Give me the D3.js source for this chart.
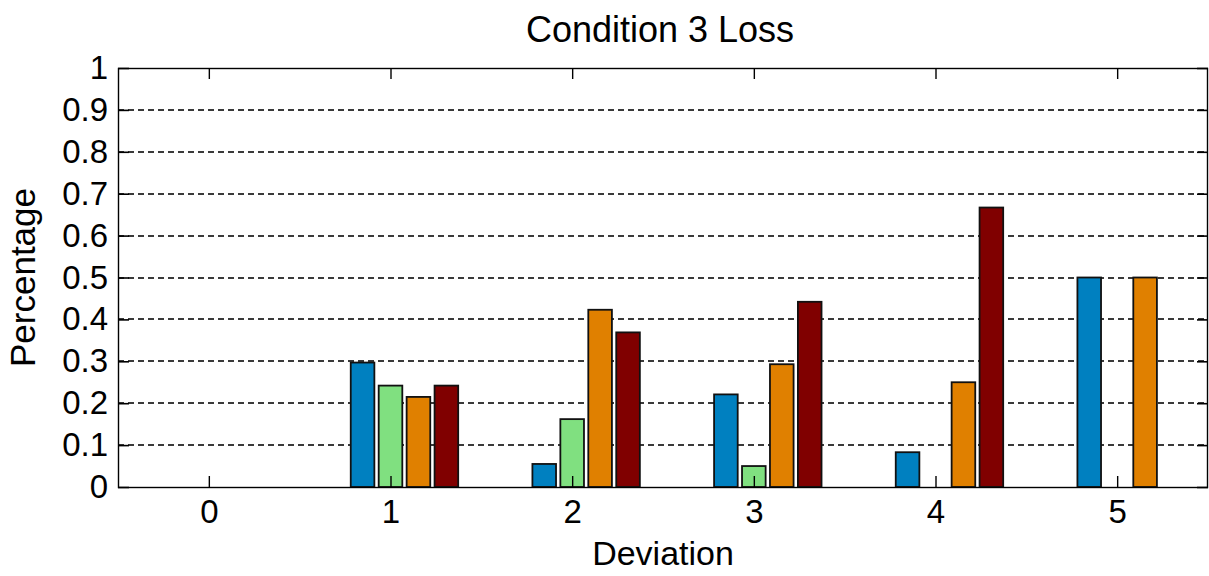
<!DOCTYPE html>
<html>
<head>
<meta charset="utf-8">
<script src="https://cdnjs.cloudflare.com/ajax/libs/d3/7.8.5/d3.min.js"></script>
<style>
    body { margin: 0; background: #fff; }
    svg { display: block; font-family: "Liberation Sans", Arial, sans-serif; }
</style>
</head>
<body>
<div id="chart"></div>
<script>
// Chart data
const deviations = [0, 1, 2, 3, 4, 5];
const blueValues = [0, 0.297, 0.055, 0.221, 0.083, 0.5];
const greenValues = [0, 0.242, 0.162, 0.05, 0, 0];
const orangeValues = [0, 0.215, 0.423, 0.293, 0.25, 0.5];
const redValues = [0, 0.242, 0.369, 0.442, 0.667, 0];
const yTicks = [0, 0.1, 0.2, 0.3, 0.4, 0.5, 0.6, 0.7, 0.8, 0.9, 1];

const series = [
    { values: blueValues, color: '#0080c0', slot: -1 },
    { values: greenValues, color: '#80e080', slot: 0 },
    { values: orangeValues, color: '#e08000', slot: 1 },
    { values: redValues, color: '#800000', slot: 2 }
];

const width = 1209;
const height = 576;
const margin = { top: 68, right: 1, bottom: 89, left: 118 };

// slot width in x units (matlab grouped bar, 5 series)
const slotWidth = 0.1538;
const barWidth = 0.13;

const svg = d3.select('#chart')
    .append('svg')
    .attr('width', width)
    .attr('height', height);

const x = d3.scaleLinear()
    .domain([-0.5, 5.5])
    .range([margin.left, width - margin.right]);

const y = d3.scaleLinear()
    .domain([0, 1])
    .range([height - margin.bottom, margin.top]);

// Dashed horizontal grid
svg.append('g')
    .selectAll('line')
    .data(yTicks.filter(t => t > 0 && t < 1))
    .enter()
    .append('line')
    .attr('x1', x.range()[0])
    .attr('x2', x.range()[1])
    .attr('y1', d => Math.round(y(d)))
    .attr('y2', d => Math.round(y(d)))
    .style('stroke', '#3a3a3a')
    .style('stroke-width', 2)
    .style('stroke-dasharray', '6,4');

// Bars
series.forEach(s => {
    svg.append('g')
        .selectAll('rect')
        .data(deviations.map((d, i) => ({ d, v: s.values[i] })).filter(p => p.v > 0))
        .enter()
        .append('rect')
        .attr('x', p => x(p.d + s.slot * slotWidth - barWidth / 2))
        .attr('width', x(barWidth) - x(0))
        .attr('y', p => y(p.v))
        .attr('height', p => y(0) - y(p.v))
        .style('fill', s.color)
        .style('stroke', '#111')
        .style('stroke-width', 1.8);
});

// Axes (ticks pointing inward)
const tickLen = 11;

svg.append('g')
    .attr('transform', `translate(0,${y(0)})`)
    .call(d3.axisBottom(x).tickValues(deviations).tickFormat(d3.format('d'))
        .tickSizeInner(-tickLen).tickSizeOuter(0).tickPadding(13))
    .call(g => g.select('.domain').remove())
    .call(g => g.selectAll('line').style('stroke-width', 1.4))
    .call(g => g.selectAll('text').style('font-size', '33px').style('fill', '#000'));

svg.append('g')
    .attr('transform', `translate(0,${y(1)})`)
    .call(d3.axisTop(x).tickValues(deviations).tickFormat('')
        .tickSizeInner(-tickLen).tickSizeOuter(0))
    .call(g => g.select('.domain').remove())
    .call(g => g.selectAll('line').style('stroke-width', 1.4));

svg.append('g')
    .attr('transform', `translate(${x.range()[0]},0)`)
    .call(d3.axisLeft(y).tickValues(yTicks).tickFormat(d3.format('~g'))
        .tickSizeInner(-tickLen).tickSizeOuter(0).tickPadding(10))
    .call(g => g.select('.domain').remove())
    .call(g => g.selectAll('line').style('stroke-width', 1.6))
    .call(g => g.selectAll('text').style('font-size', '33px').style('fill', '#000'));

svg.append('g')
    .attr('transform', `translate(${x.range()[1]},0)`)
    .call(d3.axisRight(y).tickValues(yTicks).tickFormat('')
        .tickSizeInner(-tickLen).tickSizeOuter(0))
    .call(g => g.select('.domain').remove())
    .call(g => g.selectAll('line').style('stroke-width', 1.6));

// Axes box
svg.append('rect')
    .attr('x', x.range()[0] + 0.5)
    .attr('y', y(1) + 0.5)
    .attr('width', x.range()[1] - x.range()[0] - 1)
    .attr('height', y(0) - y(1))
    .style('fill', 'none')
    .style('stroke', '#000')
    .style('stroke-width', 1.4);

// Title and axis labels
const midX = (x.range()[0] + x.range()[1]) / 2;

svg.append('text')
    .attr('x', midX - 3)
    .attr('y', 42)
    .attr('text-anchor', 'middle')
    .style('font-size', '36px')
    .text('Condition 3 Loss');

svg.append('text')
    .attr('x', midX)
    .attr('y', 565)
    .attr('text-anchor', 'middle')
    .style('font-size', '34px')
    .text('Deviation');

svg.append('text')
    .attr('transform', `translate(35,${(y(0) + y(1)) / 2}) rotate(-90)`)
    .attr('text-anchor', 'middle')
    .style('font-size', '35px')
    .text('Percentage');
</script>
</body>
</html>
